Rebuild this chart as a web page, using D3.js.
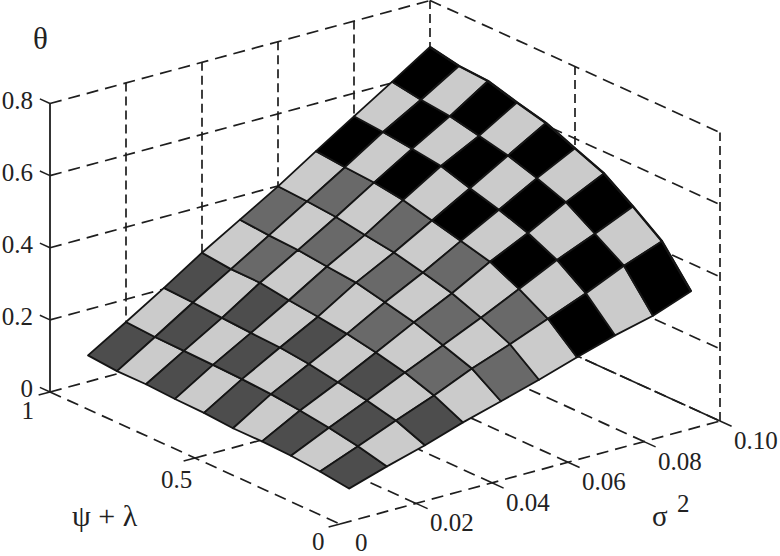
<!DOCTYPE html>
<html>
<head>
<meta charset="utf-8">
<script src="https://cdn.jsdelivr.net/npm/d3@7"></script>
<style>
  html, body { margin: 0; padding: 0; background: #fff; }
  svg { display: block; }
  text { font-family: "Liberation Serif", serif; fill: #222; }
</style>
</head>
<body>
<div id="plot"></div>
<script>
// Grid of the surface.
const psi_values = [1.0, 0.9, 0.8, 0.7, 0.6, 0.5, 0.4, 0.3, 0.2, 0.1];
const sigma_values = [0.01, 0.02, 0.03, 0.04, 0.05, 0.06, 0.07, 0.08, 0.09, 0.10];

// One row per psi value, one column per sigma value.
const theta_rows = [
  [0.073, 0.137, 0.203, 0.272, 0.335, 0.399, 0.468, 0.536, 0.603, 0.671],
  [0.066, 0.132, 0.199, 0.263, 0.328, 0.394, 0.460, 0.529, 0.590, 0.655],
  [0.066, 0.130, 0.193, 0.262, 0.324, 0.387, 0.454, 0.519, 0.581, 0.650],
  [0.062, 0.128, 0.188, 0.250, 0.315, 0.374, 0.442, 0.508, 0.563, 0.627],
  [0.060, 0.125, 0.184, 0.241, 0.307, 0.362, 0.422, 0.483, 0.545, 0.607],
  [0.054, 0.120, 0.175, 0.230, 0.289, 0.343, 0.402, 0.460, 0.519, 0.573],
  [0.054, 0.111, 0.161, 0.215, 0.270, 0.322, 0.381, 0.432, 0.489, 0.540],
  [0.051, 0.100, 0.147, 0.196, 0.243, 0.291, 0.342, 0.394, 0.438, 0.485],
  [0.044, 0.085, 0.128, 0.169, 0.215, 0.254, 0.296, 0.338, 0.386, 0.425],
  [0.033, 0.066, 0.096, 0.131, 0.161, 0.192, 0.226, 0.258, 0.284, 0.323]
];

// Axis ticks.
const theta_ticks = [0, 0.2, 0.4, 0.6, 0.8];
const sigma_ticks = [0.02, 0.04, 0.06, 0.08, 0.10];
const psi_ticks = [1, 0.5, 0];
const theta_labels = ['0', '0.2', '0.4', '0.6', '0.8'];
const sigma_labels = ['0.02', '0.04', '0.06', '0.08', '0.10'];

const width = 780, height = 556;
const origin = { x: 50, y: 392 };   // Where psi = 1, sigma = 0, theta = 0 lands.
const ink = '#1e1e1e';
const dash = '12 7';
const light_cell = '#cbcbcb';

// Oblique projection: every data axis adds its own pixel offset.
const psi_x = d3.scaleLinear().domain( [1, 0] ).range( [0, 290] );
const psi_y = d3.scaleLinear().domain( [1, 0] ).range( [0, 132] );
const sigma_x = d3.scaleLinear().domain( [0, 0.10] ).range( [0, 380] );
const sigma_y = d3.scaleLinear().domain( [0, 0.10] ).range( [0, -103] );
const theta_y = d3.scaleLinear().domain( [0, 0.8] ).range( [0, -288.5] );

function project( psi, sigma, theta ){
  return [
    origin.x + psi_x( psi ) + sigma_x( sigma ),
    origin.y + psi_y( psi ) + sigma_y( sigma ) + theta_y( theta )
  ];
}

// The coloured cells change shade with the sigma band they sit in.
const band_shade = d3.scaleThreshold()
  .domain( [0.04, 0.07] )
  .range( ['#4d4d4d', '#696969', '#000000'] );

const svg = d3.select( '#plot' )
  .append( 'svg' )
    .attr( 'width', width )
    .attr( 'height', height );

function segment( parent, a, b, style ){
  return parent.append( 'line' )
    .attr( 'x1', a[0] ).attr( 'y1', a[1] )
    .attr( 'x2', b[0] ).attr( 'y2', b[1] )
    .attr( 'stroke', ink )
    .attr( 'stroke-width', style.width || 1.7 )
    .attr( 'stroke-dasharray', style.dash || null );
}

// Back walls and floor, dashed. The surface is painted over them afterwards.
const walls = svg.append( 'g' ).attr( 'class', 'walls' );

theta_ticks.forEach( t => {
  if( t > 0 ) segment( walls, project( 1, 0, t ), project( 1, 0.10, t ), { dash: dash } );
  segment( walls, project( 1, 0.10, t ), project( 0, 0.10, t ), { dash: dash } );
});
sigma_ticks.forEach( s => {
  segment( walls, project( 1, s, 0 ), project( 1, s, 0.8 ), { dash: '9 5' } );
  // The last floor line is nearly solid in the original.
  segment( walls, project( 0, s, 0 ), project( 1, s, 0 ), { dash: s == 0.10 ? '34 4' : dash } );
});
[0.5, 0].forEach( p => {
  segment( walls, project( p, 0.10, 0 ), project( p, 0.10, 0.8 ), { dash: '9 5' } );
});
psi_ticks.forEach( p => {
  segment( walls, project( p, 0, 0 ), project( p, 0.10, 0 ), { dash: dash } );
});
segment( walls, project( 1, 0, 0 ), project( 0, 0, 0 ), { dash: dash } );

// Solid theta axis with its ticks.
const axes = svg.append( 'g' ).attr( 'class', 'axes' );
segment( axes, project( 1, 0, 0 ), project( 1, 0, 0.8 ), { width: 1.8 } );
theta_ticks.forEach( t => {
  segment( axes, project( 1, 0, t ), project( 1.035, 0, t ), { width: 1.5 } );
});
sigma_ticks.forEach( s => {
  segment( axes, project( 0, s, 0 ), project( -0.04, s, 0 ), { width: 1.5 } );
});
psi_ticks.forEach( p => {
  segment( axes, project( p, 0, 0 ), project( p, -0.003, 0 ), { width: 1.5 } );
});

// Surface cells.
const cells = [];
d3.range( psi_values.length - 1 ).forEach( i => {
  d3.range( sigma_values.length - 1 ).forEach( j => {
    cells.push( {
      fill: ( i + j ) % 2 == 0 ? band_shade( sigma_values[j] ) : light_cell,
      corners: [
        project( psi_values[i], sigma_values[j], theta_rows[i][j] ),
        project( psi_values[i + 1], sigma_values[j], theta_rows[i + 1][j] ),
        project( psi_values[i + 1], sigma_values[j + 1], theta_rows[i + 1][j + 1] ),
        project( psi_values[i], sigma_values[j + 1], theta_rows[i][j + 1] )
      ]
    } );
  });
});

svg.append( 'g' )
  .attr( 'class', 'surface' )
  .selectAll( 'polygon' )
  .data( cells )
  .enter()
  .append( 'polygon' )
    .attr( 'points', d => d.corners.map( c => c.join( ',' ) ).join( ' ' ) )
    .attr( 'fill', d => d.fill )
    .attr( 'stroke', '#151515' )
    .attr( 'stroke-width', 1.8 )
    .attr( 'stroke-linejoin', 'round' );

// The far curved rim is drawn a bit heavier in the original.
const rim = d3.line();
svg.append( 'path' )
  .attr( 'd', rim( psi_values.map( ( p, i ) => project( p, 0.10, theta_rows[i][9] ) ) ) )
  .attr( 'fill', 'none' )
  .attr( 'stroke', '#151515' )
  .attr( 'stroke-width', 2.4 )
  .attr( 'stroke-linejoin', 'round' );

// Text.
const labels = svg.append( 'g' ).attr( 'class', 'labels' ).attr( 'font-size', 25 );

function label( x, y, txt, size ){
  const el = labels.append( 'text' ).attr( 'x', x ).attr( 'y', y ).text( txt );
  if( size ) el.attr( 'font-size', size );
  return el;
}

theta_ticks.forEach( ( t, k ) => {
  const p = project( 1, 0, t );
  label( p[0] - 17, p[1] + 5, theta_labels[k] ).attr( 'text-anchor', 'end' );
});
sigma_ticks.forEach( ( s, k ) => {
  const p = project( 0, s, 0 );
  label( p[0] + 14, p[1] + 28, sigma_labels[k] );
});

label( 34, 419, '1' ).attr( 'text-anchor', 'end' );
label( 161, 488, '0.5' );
label( 312, 550, '0' );
label( 355, 550.5, '0' );

label( 33, 49, '\u03b8', 31 );
label( 72, 526, '\u03c8 + \u03bb', 30 );
label( 652, 526, '\u03c3', 29 );
label( 677, 512, '2' );
</script>
</body>
</html>
